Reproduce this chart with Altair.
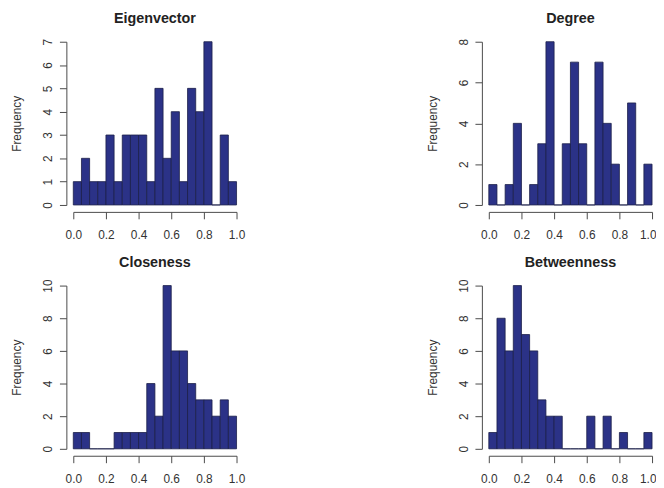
import altair as alt
import pandas as pd

# histogram bins (width 0.05)
bin_lo = [0.00, 0.05, 0.10, 0.15, 0.20, 0.25, 0.30, 0.35, 0.40, 0.45,
          0.50, 0.55, 0.60, 0.65, 0.70, 0.75, 0.80, 0.85, 0.90, 0.95]
bin_hi = [0.05, 0.10, 0.15, 0.20, 0.25, 0.30, 0.35, 0.40, 0.45, 0.50,
          0.55, 0.60, 0.65, 0.70, 0.75, 0.80, 0.85, 0.90, 0.95, 1.00]

eigenvector = [1, 2, 1, 1, 3, 1, 3, 3, 3, 1, 5, 2, 4, 1, 5, 4, 7, 0, 3, 1]
degree      = [1, 0, 1, 4, 0, 1, 3, 8, 0, 3, 7, 3, 0, 7, 4, 2, 0, 5, 0, 2]
closeness   = [1, 1, 0, 0, 0, 1, 1, 1, 1, 4, 2, 10, 6, 6, 4, 3, 3, 2, 3, 2]
betweenness = [1, 8, 6, 10, 7, 6, 3, 2, 2, 0, 0, 0, 2, 0, 2, 0, 1, 0, 0, 1]

x_ticks = [0.0, 0.2, 0.4, 0.6, 0.8, 1.0]

FILL = "#2B3287"
STROKE = "#1b1e48"
AXIS = "#4a4a4a"
TEXT = "#333333"
FONT = "Liberation Sans"


def panel(title, counts, ymax, ystep, title_offset, at_right_edge=False):
    df = pd.DataFrame({"lo": bin_lo, "hi": bin_hi, "count": counts})
    yticks = list(range(0, ymax + 1, ystep))
    x_axis_opts = dict(
        values=x_ticks, format=".1f", offset=7, tickSize=7,
        labelPadding=11, grid=False, title=None, labelOverlap=False,
        labelFlush=False,
    )
    if at_right_edge:
        # keep the last tick label inside the page (it sits at the window edge)
        x_axis_opts["labelAlign"] = {
            "condition": {"test": "datum.value >= 1", "value": "right"},
            "value": "center",
        }
        x_axis_opts["labelOffset"] = {
            "condition": {"test": "datum.value >= 1", "value": 4},
            "value": 0,
        }
    return (
        alt.Chart(
            df,
            title=alt.TitleParams(
                title, fontSize=14.5, fontWeight="bold", font=FONT, color="#222222",
                frame="group", offset=title_offset, anchor="middle",
            ),
        )
        .mark_rect(fill=FILL, stroke=STROKE, strokeWidth=0.8)
        .encode(
            x=alt.X(
                "lo:Q",
                scale=alt.Scale(domain=[0, 1], nice=False, zero=False),
                axis=alt.Axis(**x_axis_opts),
            ),
            x2="hi:Q",
            y=alt.Y(
                "count:Q",
                scale=alt.Scale(domain=[0, ymax], nice=False),
                axis=alt.Axis(
                    values=yticks, offset=7, tickSize=7, labelAngle=270,
                    labelAlign="center", labelBaseline="alphabetic", labelPadding=8,
                    title="Frequency", titlePadding=18, grid=False, labelOverlap=False,
                ),
            ),
            y2=alt.datum(0),
        )
        .properties(width=165, height=165)
    )


top = alt.hconcat(
    panel("Eigenvector", eigenvector, 7, 1, 12),
    panel("Degree", degree, 8, 2, 12, at_right_edge=True),
    spacing=255,
    bounds="flush",
)
bottom = alt.hconcat(
    panel("Closeness", closeness, 10, 2, 9),
    panel("Betweenness", betweenness, 10, 2, 9, at_right_edge=True),
    spacing=255,
    bounds="flush",
)

chart = (
    alt.vconcat(top, bottom, spacing=13.5)
    .properties(padding={"left": 3, "top": 0.5, "right": 0, "bottom": 0}, background="white")
    .configure_view(stroke=None)
    .configure_axis(
        domainColor=AXIS, tickColor=AXIS, labelColor=TEXT, titleColor=TEXT,
        labelFont=FONT, titleFont=FONT, labelFontSize=12, titleFontSize=12,
        titleFontWeight="normal", domainWidth=1, tickWidth=1,
    )
)

chart.save("out.html", embed_options={"renderer": "svg", "actions": False})
